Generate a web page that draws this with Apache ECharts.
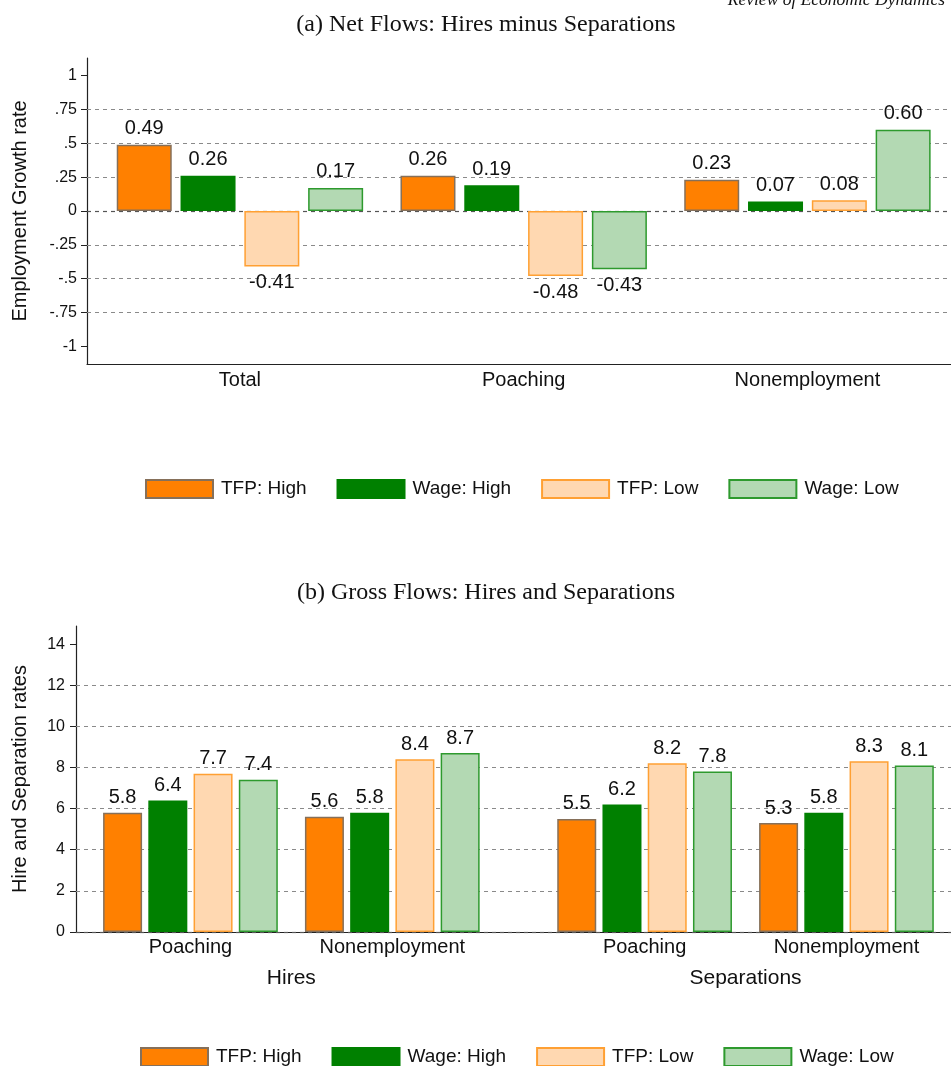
<!DOCTYPE html>
<html><head><meta charset="utf-8">
<script src="https://cdn.jsdelivr.net/npm/echarts@6/dist/echarts.min.js"></script>
<style>html,body{margin:0;padding:0;background:#fff}#c{width:951px;height:1066px}</style>
</head><body><div id="c"></div>
<script>
// ---- data ----
const seriesNames = ['TFP: High', 'Wage: High', 'TFP: Low', 'Wage: Low'];

const netCategories = ['Total', 'Poaching', 'Nonemployment'];
const netTfpHigh  = [0.49, 0.26, 0.23];
const netWageHigh = [0.26, 0.19, 0.07];
const netTfpLow   = [-0.41, -0.48, 0.08];
const netWageLow  = [0.17, -0.43, 0.60];
const netTicks = [-1, -0.75, -0.5, -0.25, 0, 0.25, 0.5, 0.75, 1];
const netGridLines = [-0.75, -0.5, -0.25, 0, 0.25, 0.5, 0.75];

const grossCategories = ['Poaching', 'Nonemployment', 'Poaching', 'Nonemployment'];
const grossGroups = ['Hires', 'Separations'];
const grossTfpHigh  = [5.8, 5.6, 5.5, 5.3];
const grossWageHigh = [6.4, 5.8, 6.2, 5.8];
const grossTfpLow   = [7.7, 8.4, 8.2, 8.3];
const grossWageLow  = [7.4, 8.7, 7.8, 8.1];
const grossTicks = [0, 2, 4, 6, 8, 10, 12, 14];
const grossGridLines = [0, 2, 4, 6, 8, 10, 12];

// ---- styles ----
const styles = [
  { color: '#FF8000', borderColor: '#86705a' },
  { color: '#008000', borderColor: '#008000' },
  { color: '#FFD8B1', borderColor: '#FFA033' },
  { color: '#B3D9B3', borderColor: '#2E9A2E' }
];
const FONT = 'Liberation Sans, Arial, sans-serif';
const SERIF = 'Liberation Serif, Times New Roman, serif';

const netPos = netCategories.map((c, i) => i);
const grossPos = grossCategories.map((c, i) => i + Math.floor(i / 2) * 0.25);
const groupPos = grossGroups.map((g, j) => (grossPos[2 * j] + grossPos[2 * j + 1]) / 2);

function findIdx(arr, v) { return arr.findIndex(p => Math.abs(p - v) < 1e-6); }
function fmtNet(v) { return v === 0 ? '0' : String(v).replace(/^(-?)0\./, '$1.'); }

const netSets = [netTfpHigh, netWageHigh, netTfpLow, netWageLow];
const grossSets = [grossTfpHigh, grossWageHigh, grossTfpLow, grossWageLow];

function gridMark(vals) {
  return {
    silent: true, symbol: 'none', z: 1,
    label: { show: false },
    lineStyle: { type: [4, 4], color: '#8a8a8a', width: 1 },
    data: vals.map(v => ({ yAxis: v, lineStyle: v === 0 ? { color: '#555', type: [4, 4], width: 1.2 } : undefined }))
  };
}

const series = [];
netSets.forEach((arr, s) => {
  series.push({
    name: seriesNames[s], type: 'bar', xAxisIndex: 0, yAxisIndex: 0,
    barWidth: 55, barGap: '16%',
    itemStyle: { color: styles[s].color, borderColor: styles[s].borderColor, borderWidth: 1.5 },
    label: { show: true, distance: 6, color: '#111', fontFamily: FONT, fontSize: 20,
      formatter: p => p.value[1].toFixed(2) },
    data: arr.map((v, i) => ({ value: [netPos[i], v], label: { position: v < 0 ? 'bottom' : 'top' } })),
    markLine: s === 0 ? gridMark(netGridLines) : undefined,
    z: 2
  });
});
grossSets.forEach((arr, s) => {
  series.push({
    name: seriesNames[s], type: 'bar', xAxisIndex: 1, yAxisIndex: 1,
    barWidth: 39, barGap: '16%',
    itemStyle: { color: styles[s].color, borderColor: styles[s].borderColor, borderWidth: 1.5 },
    label: { show: true, position: 'top', distance: 5, color: '#111', fontFamily: FONT, fontSize: 20,
      formatter: p => p.value[1].toFixed(1) },
    data: arr.map((v, i) => [grossPos[i], v]),
    markLine: s === 0 ? gridMark(grossGridLines) : undefined,
    z: 2
  });
});

const axisLine = { show: true, onZero: false, lineStyle: { color: '#222', width: 1.2 } };

const option = {
  animation: false,
  backgroundColor: '#fff',
  title: [
    { text: '(a) Net Flows: Hires minus Separations', left: 481, top: 8, textAlign: 'center',
      textStyle: { fontFamily: SERIF, fontSize: 24, fontWeight: 'normal', color: '#111' } },
    { text: '(b) Gross Flows: Hires and Separations', left: 481, top: 576, textAlign: 'center',
      textStyle: { fontFamily: SERIF, fontSize: 24, fontWeight: 'normal', color: '#111' } }
  ],
  graphic: [
    { type: 'text', right: 6, top: -9, style: { text: 'Review of Economic Dynamics', font: 'italic 17.5px ' + SERIF, fill: '#111' } }
  ],
  legend: [
    { data: seriesNames, left: 145, top: 479, padding: 0, itemWidth: 67, itemHeight: 18, itemGap: 30, icon: 'rect',
      textStyle: { fontFamily: FONT, fontSize: 19, color: '#111', padding: [0, 0, 0, 3] } },
    { data: seriesNames, left: 140, top: 1047, padding: 0, itemWidth: 67, itemHeight: 18, itemGap: 30, icon: 'rect',
      textStyle: { fontFamily: FONT, fontSize: 19, color: '#111', padding: [0, 0, 0, 3] } }
  ],
  grid: [
    { left: 87, right: 0, top: 58, height: 306 },
    { left: 76, right: 0, top: 626, height: 306 }
  ],
  xAxis: [
    { type: 'value', gridIndex: 0, min: -0.539, max: 2.506, position: 'bottom',
      axisLine: axisLine, axisTick: { show: false }, splitLine: { show: false },
      axisLabel: { customValues: netPos, margin: 6, fontFamily: FONT, fontSize: 20, color: '#111',
        formatter: v => { const i = findIdx(netPos, v); return i >= 0 ? netCategories[i] : ''; } } },
    { type: 'value', gridIndex: 1, min: -0.567, max: 3.768, position: 'bottom',
      axisLine: axisLine, axisTick: { show: false }, splitLine: { show: false },
      axisLabel: { customValues: grossPos, margin: 5, fontFamily: FONT, fontSize: 20, color: '#111',
        formatter: v => { const i = findIdx(grossPos, v); return i >= 0 ? grossCategories[i] : ''; } } },
    { type: 'value', gridIndex: 1, min: -0.567, max: 3.768, position: 'bottom',
      axisLine: { show: false, onZero: false }, axisTick: { show: false }, splitLine: { show: false },
      axisLabel: { customValues: groupPos, margin: 36, fontFamily: FONT, fontSize: 21, color: '#111',
        formatter: v => { const i = findIdx(groupPos, v); return i >= 0 ? grossGroups[i] : ''; } } }
  ],
  yAxis: [
    { type: 'value', gridIndex: 0, min: -1.13, max: 1.13,
      name: 'Employment Growth rate', nameLocation: 'middle', nameGap: 57,
      nameTextStyle: { fontFamily: FONT, fontSize: 20, color: '#111' },
      axisLine: axisLine, splitLine: { show: false },
      axisTick: { show: true, customValues: netTicks, length: 6, lineStyle: { color: '#222' } },
      axisLabel: { customValues: netTicks, margin: 10, fontFamily: FONT, fontSize: 16, color: '#111', formatter: fmtNet } },
    { type: 'value', gridIndex: 1, min: 0, max: 14.88,
      name: 'Hire and Separation rates', nameLocation: 'middle', nameGap: 46,
      nameTextStyle: { fontFamily: FONT, fontSize: 20, color: '#111' },
      axisLine: axisLine, splitLine: { show: false },
      axisTick: { show: true, customValues: grossTicks, length: 6, lineStyle: { color: '#222' } },
      axisLabel: { customValues: grossTicks, margin: 11, fontFamily: FONT, fontSize: 16, color: '#111' } }
  ],
  series: series
};

const chart = echarts.init(document.getElementById('c'), null, { renderer: 'canvas' });
chart.setOption(option);
</script>
</body></html>
